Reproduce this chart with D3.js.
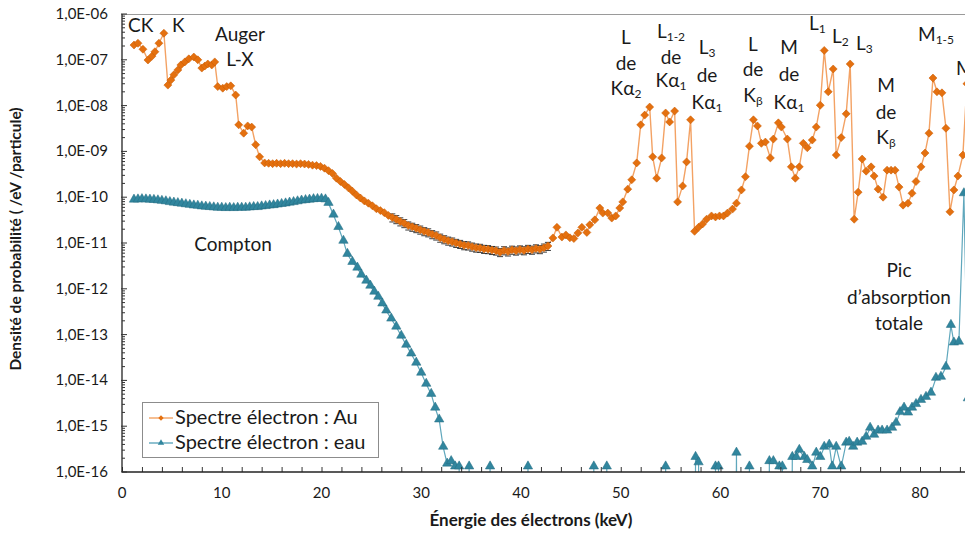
<!DOCTYPE html>
<html><head><meta charset="utf-8">
<script src="https://cdn.jsdelivr.net/npm/d3@7"></script>
<style>
body{margin:0;background:#fff}
svg{display:block}
text{font-family:Lato,"Open Sans",sans-serif;fill:#1a1a1a}
</style>
</head><body>
<svg id="chart" width="965" height="534"></svg>
<script>
// ---------- DATA ----------
const auEnergy = [1.2,1.6,2.1,2.6,3.0,3.3,3.7,4.2,4.6,4.9,5.2,5.6,5.9,6.3,6.7,7.2,7.6,8.0,8.3,8.6,9.0,9.3,9.6,10.1,10.5,10.9,11.4,11.7,12.2,12.6,13.0,13.4,13.8,14.3,
14.7,15.1,15.5,15.9,16.3,16.7,17.1,17.5,17.9,18.3,18.7,19.1,19.5,19.9,20.3,20.7,21.1,21.5,21.9,22.3,22.7,23.1,23.5,23.9,24.3,24.7,25.1,25.5,25.9,26.3,26.7,27.1,27.5,27.9,28.3,28.7,29.1,29.5,29.9,30.3,30.7,31.1,31.5,31.9,32.3,32.7,33.1,33.5,33.9,34.3,34.7,35.1,35.5,35.9,36.3,36.7,37.1,37.5,37.9,38.3,38.7,39.1,39.5,39.9,40.3,40.7,41.1,41.5,41.9,42.3,42.7,
43.2,43.6,44.1,44.5,44.9,45.3,45.7,46.1,46.6,46.9,47.4,47.9,48.2,48.7,49.1,49.5,49.9,50.2,50.7,51.1,51.6,52.0,52.4,52.9,53.2,53.6,54.1,54.5,54.9,55.4,55.7,56.2,56.6,57.0,57.4,57.8,58.2,58.6,59.1,59.5,59.9,60.3,60.7,61.2,61.6,62.1,62.5,62.9,
63.3,63.7,64.1,64.5,65.0,65.3,65.8,66.1,66.7,67.1,67.5,67.9,68.3,68.7,69.2,69.6,70.0,70.4,70.8,71.3,71.6,72.1,72.6,73.0,73.4,73.8,74.2,74.6,75.1,75.4,75.8,76.3,76.7,77.1,77.5,77.9,78.3,78.8,79.2,79.6,80.1,80.5,80.9,81.3,81.7,82.2,82.6,83.0,83.4,83.8,84.3,84.7];
const auValue = [2.1e-7,2.3e-7,1.7e-7,9.9e-8,1.2e-7,1.5e-7,2.3e-7,3.8e-7,2.8e-8,3.6e-8,4.7e-8,6.0e-8,7.7e-8,9.0e-8,1.05e-7,1.15e-7,1.0e-7,6.6e-8,7.3e-8,8.1e-8,7.7e-8,9.0e-8,2.6e-8,2.4e-8,2.6e-8,2.7e-8,1.7e-8,3.8e-9,2.5e-9,3.6e-9,3.4e-9,1.4e-9,7.6e-10,5.6e-10,
5.5e-10,5.4e-10,5.5e-10,5.4e-10,5.5e-10,5.4e-10,5.4e-10,5.3e-10,5.4e-10,5.3e-10,5.2e-10,5.0e-10,4.9e-10,4.7e-10,4.3e-10,3.8e-10,3.3e-10,2.6e-10,2.2e-10,1.9e-10,1.6e-10,1.35e-10,1.12e-10,9.6e-11,8.3e-11,7.4e-11,6.5e-11,5.6e-11,5.1e-11,4.6e-11,4.0e-11,3.6e-11,3.3e-11,2.95e-11,2.7e-11,2.4e-11,2.25e-11,2.1e-11,1.95e-11,1.8e-11,1.7e-11,1.55e-11,1.45e-11,1.3e-11,1.2e-11,1.12e-11,1.07e-11,1.0e-11,9.5e-12,8.9e-12,8.8e-12,8.3e-12,7.9e-12,7.8e-12,7.4e-12,7.3e-12,7.0e-12,6.8e-12,6.3e-12,6.9e-12,6.5e-12,7.1e-12,6.8e-12,7.2e-12,6.9e-12,7.4e-12,7.1e-12,7.6e-12,7.3e-12,7.9e-12,8.6e-12,
1.29e-11,2.2e-11,1.35e-11,1.5e-11,1.3e-11,1.25e-11,1.65e-11,2.2e-11,1.7e-11,2.5e-11,3.2e-11,5.8e-11,4.5e-11,4.5e-11,3.5e-11,3.9e-11,5.8e-11,7.9e-11,1.5e-10,2.4e-10,5.6e-10,3.8e-9,6.2e-9,9.3e-9,7.6e-10,2.6e-10,7.2e-10,6.9e-9,4.4e-9,7.6e-9,7.9e-11,1.76e-10,5.9e-10,4.9e-9,1.8e-11,2.2e-11,2.6e-11,3.3e-11,3.9e-11,3.7e-11,3.9e-11,3.9e-11,4.5e-11,5.5e-11,7.4e-11,1.44e-10,2.8e-10,1.3e-9,
4.9e-9,3.6e-9,1.5e-9,1.6e-9,7.2e-10,1.86e-9,4.2e-9,3.4e-9,1.86e-9,4.6e-10,2.6e-10,4.6e-10,1.5e-9,1.2e-9,1.77e-9,3.4e-9,1.02e-8,1.6e-7,2.0e-8,6.3e-8,8.3e-10,2.0e-9,6.6e-9,8.1e-8,3.3e-11,1.29e-10,6.8e-10,3.7e-10,4.6e-10,2.9e-10,1.5e-10,1.0e-10,3.9e-10,3.9e-10,3.9e-10,1.66e-10,6.7e-11,7.4e-11,1.22e-10,2.2e-10,4.6e-10,9.2e-10,2.5e-9,4.0e-8,2.0e-8,1.9e-8,3.2e-9,4.8e-11,1.44e-10,2.9e-10,8.3e-10,3.0e-8];

const eauEnergy = [1.2,1.6,2.0,2.4,2.8,3.2,3.6,4.0,4.4,4.8,5.2,5.6,6.0,6.4,6.8,7.2,7.6,8.0,8.4,8.8,9.2,9.6,10.0,10.4,10.8,11.2,11.6,12.0,12.4,12.8,13.2,13.6,14.0,14.4,14.8,15.2,15.6,16.0,16.4,16.8,17.2,17.6,18.0,18.4,18.8,19.2,19.6,20.0,20.4,
20.7,21.2,21.7,22.2,22.6,23.1,23.6,24.0,24.5,24.9,25.3,25.7,26.1,26.5,27.0,27.5,28.0,28.5,29.0,29.5,30.0,30.5,31.0,31.4,31.8,32.2,32.6,33.0,33.4,33.8,34.2,34.8,35.2,
36.5,36.9,37.3,40.3,40.7,41.1,46.9,47.3,47.7,48.2,48.6,49.0,54.1,54.5,54.9,57.1,57.5,57.8,58.2,59.1,59.5,59.8,60.2,61.2,61.6,62.0,62.5,62.9,63.3,64.5,64.9,65.3,65.9,66.2,66.7,
67.2,67.6,67.9,68.4,68.7,69.2,69.6,70.0,70.4,70.9,71.2,71.6,72.1,72.6,72.9,73.3,73.7,74.2,74.6,75.0,75.4,75.8,76.2,76.7,77.2,77.6,78.0,78.4,78.8,79.2,79.6,80.1,80.6,81.1,81.6,82.1,82.6,83.1,83.4,83.9,84.4,84.8];
const eauValue = [8.7e-11,8.8e-11,8.9e-11,8.8e-11,8.7e-11,8.6e-11,8.4e-11,8.2e-11,8.0e-11,7.7e-11,7.5e-11,7.3e-11,7.1e-11,6.9e-11,6.7e-11,6.5e-11,6.4e-11,6.2e-11,6.1e-11,6.0e-11,5.9e-11,5.8e-11,5.8e-11,5.7e-11,5.8e-11,5.7e-11,5.8e-11,5.8e-11,5.8e-11,5.9e-11,6.0e-11,6.0e-11,6.2e-11,6.3e-11,6.5e-11,6.6e-11,6.8e-11,7.0e-11,7.2e-11,7.5e-11,7.7e-11,8.0e-11,8.3e-11,8.5e-11,8.7e-11,8.9e-11,9.0e-11,9.1e-11,8.8e-11,
7.4e-11,4.1e-11,2.2e-11,1.1e-11,5.7e-12,3.8e-12,2.85e-12,2.0e-12,1.48e-12,1.15e-12,8.5e-13,6.6e-13,4.7e-13,3.3e-13,2.2e-13,1.47e-13,9.3e-14,5.9e-14,3.8e-14,2.4e-14,1.45e-14,8.3e-15,5.0e-15,2.5e-15,1.38e-15,3.5e-16,1.5e-16,1.7e-16,1.3e-16,1.3e-16,0,1.3e-16,0,
0,1.3e-16,0,0,1.3e-16,0,0,1.3e-16,0,0,1.3e-16,0,0,1.3e-16,0,0,2.1e-16,1.6e-16,0,0,1.3e-16,1.3e-16,0,0,2.6e-16,0,0,1.3e-16,0,0,1.7e-16,1.7e-16,1.3e-16,1.3e-16,0,
2.1e-16,2.1e-16,3.0e-16,2.1e-16,1.8e-16,1.3e-16,2.6e-16,2.1e-16,3.5e-16,3.9e-16,1.3e-16,3.5e-16,1.3e-16,4.3e-16,4.5e-16,3.5e-16,4.3e-16,4.5e-16,5.8e-16,9.1e-16,6.4e-16,7.9e-16,7.9e-16,7.9e-16,9.1e-16,1.17e-15,2.0e-15,2.5e-15,1.95e-15,2.5e-15,3.0e-15,3.7e-15,4.3e-15,5.3e-15,1.12e-14,1.18e-14,1.95e-14,1.6e-13,6.6e-14,6.9e-14,1.2e-10,4e-15];

const xTickLabels = [0,10,20,30,40,50,60,70,80];
const yTickExponents = [-16,-15,-14,-13,-12,-11,-10,-9,-8,-7,-6];
const seriesNames = ["Spectre électron : Au", "Spectre électron : eau"];
const auErrorRange = [27, 43];
const auErrorRel = 0.2;

// ---------- LAYOUT ----------
const svg = d3.select("#chart");
const L = 122, T = 14, B = 472, R = 965;
const x = d3.scaleLinear().domain([0, 80]).range([122, 920]);
const y = d3.scaleLog().domain([1e-16, 1e-6]).range([B, T]);
const yv = v => v > 0 ? y(v) : B + 800;

const AU_LINE = "#F3A264", AU_MARK = "#E4700F", AU_EDGE = "#C85A00";
const EAU_LINE = "#5FA7BC", EAU_MARK = "#31869E";

svg.append("defs").append("clipPath").attr("id","plot")
  .append("rect").attr("x", L).attr("y", T).attr("width", R - L).attr("height", B - T);

// top border
svg.append("line").attr("x1", L).attr("x2", R).attr("y1", T + 0.5).attr("y2", T + 0.5)
  .attr("stroke", "#9a9a9a").attr("stroke-width", 1.2);

const eauData = eauEnergy.map((e, i) => ({e, v: eauValue[i]}));
const auData = auEnergy.map((e, i) => ({e, v: auValue[i]}));
const line = d3.line().x(d => x(d.e)).y(d => yv(d.v));

// water series
const gPlot = svg.append("g").attr("clip-path", "url(#plot)");
gPlot.append("path").datum(eauData).attr("d", line)
  .attr("fill", "none").attr("stroke", EAU_LINE).attr("stroke-width", 1.2);

const tri = d3.symbol().type(d3.symbolTriangle).size(38);
svg.append("g").selectAll("path").data(eauData.filter(d => d.v > 0 && x(d.e) <= R + 5))
  .join("path").attr("d", tri)
  .attr("transform", d => `translate(${x(d.e)},${yv(d.v) - 0.5})`)
  .attr("fill", EAU_MARK).attr("stroke", "#256d82").attr("stroke-width", 0.5);

// gold series
gPlot.append("path").datum(auData).attr("d", line)
  .attr("fill", "none").attr("stroke", AU_LINE).attr("stroke-width", 1.4);

// error bar caps
const errG = svg.append("g");
auData.filter(d => d.e >= auErrorRange[0] && d.e <= auErrorRange[1]).forEach(d => {
  [d.v * (1 + auErrorRel), d.v * (1 - auErrorRel)].forEach(v => {
    errG.append("line").attr("x1", x(d.e) - 3).attr("x2", x(d.e) + 3)
      .attr("y1", y(v)).attr("y2", y(v)).attr("stroke", "#222").attr("stroke-width", 0.9);
  });
});

const dia = d3.symbol().type(d3.symbolSquare).size(32);
svg.append("g").selectAll("path").data(auData.filter(d => x(d.e) <= R + 5))
  .join("path").attr("d", dia)
  .attr("transform", d => `translate(${x(d.e)},${y(d.v)}) rotate(45)`)
  .attr("fill", AU_MARK).attr("stroke", AU_EDGE).attr("stroke-width", 0.5);

// ---------- AXES ----------
const xAxis = d3.axisBottom(x).tickValues(d3.range(0, 92, 2)).tickSize(-5).tickFormat("");
const gx = svg.append("g").attr("transform", `translate(0,${B})`).call(xAxis);
gx.select(".domain").remove();
gx.selectAll(".tick line").attr("stroke", "#333");
svg.append("line").attr("x1", L).attr("x2", R).attr("y1", B).attr("y2", B)
  .attr("stroke", "#222").attr("stroke-width", 1.3);
svg.append("g").selectAll("text").data(xTickLabels).join("text")
  .attr("x", d => x(d)).attr("y", B + 26).attr("text-anchor", "middle")
  .attr("font-size", 15).text(d => d);

// y axis
svg.append("line").attr("x1", L).attr("x2", L).attr("y1", T).attr("y2", B)
  .attr("stroke", "#222").attr("stroke-width", 1.3);
const minor = [];
yTickExponents.slice(0, -1).forEach(p => { for (let k = 2; k <= 9; k++) minor.push(k * Math.pow(10, p)); });
svg.append("g").selectAll("line").data(minor).join("line")
  .attr("x1", L).attr("x2", L + 3).attr("y1", d => y(d)).attr("y2", d => y(d))
  .attr("stroke", "#333").attr("stroke-width", 1);
svg.append("g").selectAll("line").data(yTickExponents).join("line")
  .attr("x1", L - 1).attr("x2", L + 5).attr("y1", d => y(Math.pow(10, d))).attr("y2", d => y(Math.pow(10, d)))
  .attr("stroke", "#333").attr("stroke-width", 1);
svg.append("g").selectAll("text").data(yTickExponents).join("text")
  .attr("x", 108).attr("y", d => y(Math.pow(10, d)) + 5).attr("text-anchor", "end")
  .attr("font-size", 15).text(d => "1,0E-" + String(-d).padStart(2, "0"));

// axis titles
svg.append("text").attr("transform", "translate(21,239) rotate(-90)")
  .attr("text-anchor", "middle").attr("font-size", 15.5).attr("font-weight", "bold")
  .text("Densité de probabilité ( /eV /particule)");
svg.append("text").attr("x", 531).attr("y", 526).attr("text-anchor", "middle")
  .attr("font-size", 17).attr("font-weight", "bold").text("Énergie des électrons (keV)");

// ---------- ANNOTATIONS ----------
const FS = 19;
function ann(xp, yp, txt, anchor) {
  svg.append("text").attr("x", xp).attr("y", yp)
    .attr("text-anchor", anchor || "middle").attr("font-size", FS).text(txt);
}
function annSub(xp, yp, main, sub, anchor) {
  const t = svg.append("text").attr("x", xp).attr("y", yp)
    .attr("text-anchor", anchor || "middle").attr("font-size", FS);
  t.append("tspan").text(main);
  t.append("tspan").attr("font-size", 12).attr("dy", 3).text(sub);
}
ann(128, 32, "CK", "start");
ann(172, 32, "K", "start");
ann(240, 41, "Auger");
ann(240, 66, "L-X");
ann(233, 251, "Compton");

// L de Kα2
ann(626, 44, "L"); ann(626, 70, "de"); annSub(626, 95, "Kα", "2");
// L1-2 de Kα1
annSub(671, 38, "L", "1-2"); ann(671, 64, "de"); annSub(671, 87, "Kα", "1");
// L3 de Kα1
annSub(707, 54, "L", "3"); ann(707, 82, "de"); annSub(707, 109, "Kα", "1");
// L de Kβ
ann(753, 51, "L"); ann(753, 76, "de"); annSub(753, 102, "K", "β");
// M de Kα1
ann(789, 54, "M"); ann(789, 81, "de"); annSub(789, 109, "Kα", "1");
// L1 L2 L3
annSub(809, 30, "L", "1", "start");
annSub(832, 43, "L", "2", "start");
annSub(856, 50, "L", "3", "start");
// M de Kβ
ann(886, 92, "M"); ann(886, 119, "de"); annSub(886, 144, "K", "β");
// M1-5
annSub(918, 41, "M", "1-5", "start");
ann(956, 75, "M", "start");
// Pic d'absorption totale
ann(899, 277, "Pic"); ann(899, 304, "d’absorption"); ann(899, 330, "totale");

// ---------- LEGEND ----------
const lg = svg.append("g");
lg.append("rect").attr("x", 142.5).attr("y", 402.5).attr("width", 236).attr("height", 55)
  .attr("fill", "#fff").attr("stroke", "#8c8c8c").attr("stroke-width", 1);
const rows = [
  {name: seriesNames[0], lc: AU_LINE, mc: AU_MARK, sym: d3.symbol().type(d3.symbolSquare).size(14), rot: 45},
  {name: seriesNames[1], lc: EAU_LINE, mc: EAU_MARK, sym: d3.symbol().type(d3.symbolTriangle).size(18), rot: 0}
];
rows.forEach((r, i) => {
  const cy = 418 + i * 25;
  lg.append("line").attr("x1", 149).attr("x2", 173).attr("y1", cy).attr("y2", cy)
    .attr("stroke", r.lc).attr("stroke-width", 1.4);
  lg.append("path").attr("d", r.sym).attr("transform", `translate(161,${cy}) rotate(${r.rot})`)
    .attr("fill", r.mc);
  lg.append("text").attr("x", 175).attr("y", cy + 6).attr("font-size", 20).text(r.name);
});
</script>
</body></html>
